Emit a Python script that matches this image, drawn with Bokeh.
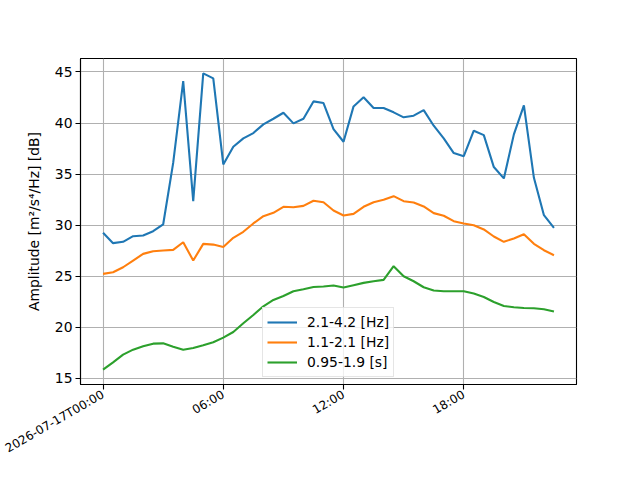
import math
import pandas as pd
from bokeh.plotting import figure
from bokeh.models import Range1d, FixedTicker, Legend, LegendItem
from bokeh.embed import file_html
from bokeh.resources import INLINE

# ---- data ----
start_time = "2026-07-17 00:00"
n_points = 46
step = "30min"

series_labels = ["2.1-4.2 [Hz]", "1.1-2.1 [Hz]", "0.95-1.9 [s]"]
series_colors = ["#1f77b4", "#ff7f0e", "#2ca02c"]

band_high = [29.25, 28.24, 28.37, 28.92, 28.99, 29.41, 30.07, 36.1, 44.1, 32.35,
             44.87, 44.38, 35.95, 37.68, 38.5, 39.02, 39.87, 40.42, 41.01, 39.97,
             40.42, 42.12, 41.96, 39.41, 38.17, 41.63, 42.52, 41.47, 41.47, 41.05,
             40.56, 40.72, 41.27, 39.74, 38.5, 37.06, 36.76, 39.25, 38.82, 35.69,
             34.58, 38.89, 41.73, 34.64, 30.98, 29.74]
band_mid = [25.23, 25.39, 25.88, 26.54, 27.19, 27.45, 27.52, 27.58, 28.33, 26.54,
            28.17, 28.1, 27.87, 28.76, 29.35, 30.17, 30.88, 31.21, 31.8, 31.76,
            31.89, 32.39, 32.25, 31.44, 30.95, 31.11, 31.8, 32.25, 32.48, 32.84,
            32.35, 32.22, 31.83, 31.18, 30.92, 30.39, 30.17, 30.0, 29.58, 28.89,
            28.37, 28.7, 29.12, 28.17, 27.55, 27.06]
band_low = [15.85, 16.57, 17.32, 17.81, 18.14, 18.4, 18.43, 18.1, 17.81, 17.97,
            18.24, 18.53, 18.99, 19.54, 20.39, 21.21, 22.06, 22.68, 23.07, 23.53,
            23.73, 23.95, 23.99, 24.09, 23.89, 24.12, 24.35, 24.51, 24.64, 25.98,
            25.0, 24.51, 23.92, 23.6, 23.53, 23.53, 23.53, 23.3, 22.97, 22.48,
            22.09, 21.96, 21.89, 21.86, 21.76, 21.54]

x_tick_times = ["2026-07-17 00:00", "2026-07-17 06:00", "2026-07-17 12:00", "2026-07-17 18:00"]
x_tick_labels = ["2026-07-17T00:00", "06:00", "12:00", "18:00"]
y_ticks = [15, 20, 25, 30, 35, 40, 45]
y_label = "Amplitude [m\u00b2/s\u2074/Hz] [dB]"

# ---- build ----
times = pd.date_range(start_time, periods=n_points, freq=step)
t0 = times[0]
t1 = times[-1]
span = t1 - t0
x_start = t0 - span * 0.05
x_end = t1 + span * 0.05

all_vals = band_high + band_mid + band_low
ymin, ymax = min(all_vals), max(all_vals)
ypad = (ymax - ymin) * 0.05

FONT = "DejaVu Sans"

p = figure(width=624, height=464, output_backend="svg", toolbar_location=None,
           x_axis_type="datetime",
           x_range=Range1d(x_start, x_end), y_range=Range1d(ymin - ypad, ymax + ypad),
           min_border_left=80, min_border_right=48, min_border_top=58, min_border_bottom=80)
p.background_fill_color = "white"
p.border_fill_color = "white"
p.outline_line_color = "black"
p.outline_line_width = 1.1
p.outline_line_alpha = 1.0

renderers = []
for vals, col in zip([band_high, band_mid, band_low], series_colors):
    r = p.line(list(times), vals, line_color=col, line_width=2.1)
    renderers.append(r)

tick_ms = [pd.Timestamp(t).value / 1e6 for t in x_tick_times]
p.xaxis.ticker = FixedTicker(ticks=tick_ms)
p.xaxis.major_label_overrides = {ms: lab for ms, lab in zip(tick_ms, x_tick_labels)}
p.xaxis.major_label_orientation = math.pi / 6
p.yaxis.ticker = FixedTicker(ticks=y_ticks)

for ax in [p.xaxis[0], p.yaxis[0]]:
    ax.axis_line_color = "black"
    ax.axis_line_width = 1.1
    ax.major_tick_line_color = "black"
    ax.major_tick_line_width = 1.1
    ax.major_tick_out = 5
    ax.major_tick_in = 0
    ax.minor_tick_out = 0
    ax.minor_tick_in = 0
    ax.major_label_text_font = FONT
    ax.major_label_text_color = "black"
    ax.axis_label_text_font = FONT
    ax.axis_label_text_font_style = "normal"
    ax.axis_label_text_color = "black"
    ax.axis_label_text_font_size = "13.9px"

p.xaxis.major_label_text_font_size = "12px"
p.xaxis.major_label_standoff = 4
p.yaxis.major_label_text_font_size = "13.9px"
p.yaxis.major_label_standoff = 3
p.yaxis.axis_label = y_label
p.yaxis.axis_label_standoff = 10

p.grid.grid_line_color = "#b0b0b0"
p.grid.grid_line_width = 1.1
p.grid.grid_line_alpha = 1.0

legend = Legend(items=[LegendItem(label=lab, renderers=[r]) for lab, r in zip(series_labels, renderers)],
                location=(182, 7))
legend.label_text_font = FONT
legend.label_text_font_size = "13.9px"
legend.label_text_color = "black"
legend.glyph_width = 30
legend.glyph_height = 20
legend.label_height = 20
legend.label_standoff = 10
legend.padding = 4
legend.spacing = 0
legend.margin = 0
legend.border_line_color = "#cccccc"
legend.border_line_width = 1
legend.background_fill_color = "white"
legend.background_fill_alpha = 0.8
p.add_layout(legend, "center")

open("out.html", "w").write(file_html(p, INLINE))
